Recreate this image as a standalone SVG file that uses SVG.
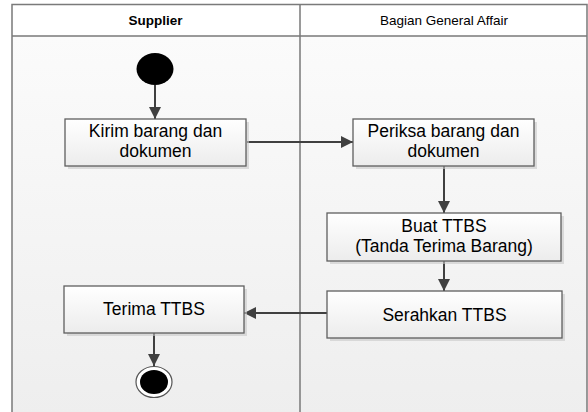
<svg xmlns="http://www.w3.org/2000/svg" width="588" height="412" viewBox="0 0 588 412">
  <defs>
    <linearGradient id="laneBg" x1="0" y1="0" x2="0" y2="1">
      <stop offset="0" stop-color="#fbfbfb"/>
      <stop offset="1" stop-color="#eeeeee"/>
    </linearGradient>
    <linearGradient id="boxFill" x1="0" y1="0" x2="0" y2="1">
      <stop offset="0" stop-color="#ffffff"/>
      <stop offset="1" stop-color="#ececec"/>
    </linearGradient>
    <marker id="arrow" viewBox="0 0 12 12" refX="12" refY="6" markerWidth="12" markerHeight="12" markerUnits="userSpaceOnUse" orient="auto">
      <path d="M0,0 L12,6 L0,12 Z" fill="#404040"/>
    </marker>
  </defs>
  <style>
    .lane { fill: none; stroke: #7a7a7a; stroke-width: 1.5; }
    .hdr { font-family: "Liberation Sans", Arial, sans-serif; font-size: 13.5px; fill: #000; text-anchor: middle; }
    .shadow { fill: #c8c8c8; opacity: 0.6; }
    .box { fill: url(#boxFill); stroke: #5f5f5f; stroke-width: 1.3; }
    .lbl { font-family: "Liberation Sans", Arial, sans-serif; font-size: 17.5px; fill: #000; text-anchor: middle; }
    .edge { fill: none; stroke: #404040; stroke-width: 2; marker-end: url(#arrow); }
  </style>

  <!-- swimlane frame -->
  <g id="swimlanes">
    <rect x="12" y="4.5" width="575" height="31.5" fill="#ffffff"/>
    <rect x="12" y="36" width="575" height="380" fill="url(#laneBg)"/>
    <path class="lane" d="M12,420 V4.5 H587 V420 M12,36 H587 M300,4.5 V420"/>
    <text class="hdr" x="155.5" y="25" font-size="13" font-weight="bold">Supplier</text>
    <text class="hdr" x="444" y="25" font-size="14">Bagian General Affair</text>
  </g>

  <!-- connectors -->
  <g id="connectors">
    <path class="edge" d="M155,85 V119"/>
    <path class="edge" d="M247,142 H353"/>
    <path class="edge" d="M444,166 V213"/>
    <path class="edge" d="M444,261 V291"/>
    <path class="edge" d="M327,313 H244"/>
    <path class="edge" d="M154,333 V366"/>
  </g>

  <g id="start">
    <ellipse cx="155" cy="69" rx="18.5" ry="16" fill="#000"/>
  </g>

  <g id="kirim">
    <rect class="shadow" x="68" y="122" width="181" height="47"/>
    <rect class="box" x="65" y="119" width="181" height="47"/>
    <text class="lbl" x="155.5" y="137">Kirim barang dan</text>
    <text class="lbl" x="155.5" y="157">dokumen</text>
  </g>

  <g id="periksa">
    <rect class="shadow" x="356" y="122" width="181" height="47"/>
    <rect class="box" x="353" y="119" width="181" height="47"/>
    <text class="lbl" x="443.5" y="137">Periksa barang dan</text>
    <text class="lbl" x="443.5" y="157">dokumen</text>
  </g>

  <g id="buat">
    <rect class="shadow" x="330" y="216" width="234" height="48"/>
    <rect class="box" x="327" y="213" width="234" height="48"/>
    <text class="lbl" x="444" y="232">Buat TTBS</text>
    <text class="lbl" x="444" y="252">(Tanda Terima Barang)</text>
  </g>

  <g id="serahkan">
    <rect class="shadow" x="330" y="294" width="235" height="47"/>
    <rect class="box" x="327" y="291" width="235" height="47"/>
    <text class="lbl" x="444.5" y="321">Serahkan TTBS</text>
  </g>

  <g id="terima">
    <rect class="shadow" x="67" y="289" width="180" height="47"/>
    <rect class="box" x="64" y="286" width="180" height="47"/>
    <text class="lbl" x="154" y="315">Terima TTBS</text>
  </g>

  <g id="end">
    <ellipse cx="154" cy="382" rx="18" ry="15.5" fill="#ffffff" stroke="#555" stroke-width="1.2"/>
    <ellipse cx="154" cy="382" rx="14" ry="12" fill="#000"/>
  </g>
</svg>
